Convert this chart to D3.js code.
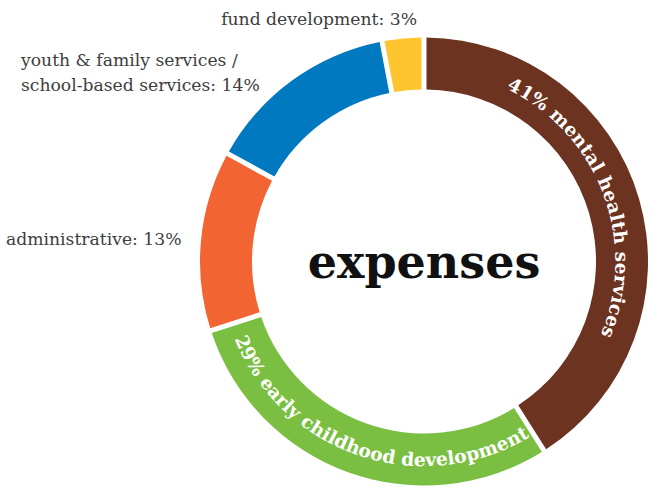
<!DOCTYPE html>
<html>
<head>
<meta charset="utf-8">
<script src="https://cdn.jsdelivr.net/npm/d3@7"></script>
<style>
  html, body { margin: 0; padding: 0; background: #fff; }
  svg { display: block; }
</style>
</head>
<body>
<svg id="chart" width="653" height="487"></svg>
<script>
// ---- data ----
const categories = ["mental health services", "early childhood development", "administrative", "youth & family services / school-based services", "fund development"];
const values = [41, 29, 13, 14, 3];
const colors = ["#6b3320", "#7bbf42", "#f26532", "#0079c1", "#fec52e"];
const arcLabels = ["41% mental health services", "29% early childhood development"];
const outsideLabels = [
  ["fund development: 3%"],
  ["youth & family services /", "school-based services: 14%"],
  ["administrative: 13%"]
];
const title = "expenses";

// ---- layout ----
const W = 653, H = 487;
const cx = 424, cy = 261.5;
const rOuter = 224, rInner = 172;
const rMid = (rOuter + rInner) / 2;
const deg = Math.PI / 180;

const svg = d3.select("#chart");
const g = svg.append("g").attr("transform", `translate(${cx},${cy})`);

const pie = d3.pie().sort(null).value(d => d)(values);
const arc = d3.arc().innerRadius(rInner).outerRadius(rOuter).padAngle(5 / 198).padRadius(198);

g.selectAll("path.slice")
  .data(pie)
  .join("path")
  .attr("class", "slice")
  .attr("d", arc)
  .attr("fill", (d, i) => colors[i]);

// text paths on arcs
const defs = svg.append("defs");
function clockArc(r, a0, a1, anticlockwise) {
  const p = d3.path();
  const s = (a0 - 90) * deg, e = (a1 - 90) * deg;
  p.moveTo(r * Math.cos(s), r * Math.sin(s));
  p.arc(0, 0, r, s, e, anticlockwise);
  return p.toString();
}
const arcFontSize = 18.5;
const measurer = svg.append("text")
  .attr("font-family", "'DejaVu Serif', serif").attr("font-weight", "bold")
  .attr("font-size", arcFontSize).attr("visibility", "hidden");
function measure(s, ls) {
  measurer.attr("letter-spacing", ls).text(s);
  return measurer.node().getComputedTextLength();
}
const arcText = [
  { id: "tp0", center: 69, span: 87, anti: false },
  { id: "tp1", center: 198.4, span: 99, anti: true }
];
const halfPath = 80;
arcText.forEach((a, i) => {
  const label = arcLabels[i];
  const a0 = a.anti ? a.center + halfPath : a.center - halfPath;
  const a1 = a.anti ? a.center - halfPath : a.center + halfPath;
  defs.append("path").attr("id", a.id).attr("d", clockArc(rMid, a0, a1, a.anti));
  const pathLen = 2 * halfPath * deg * rMid;
  const target = a.span * deg * rMid;
  const natural = measure(label, 0);
  const ls = (target - natural) / (label.length - 1);
  const start = pathLen / 2 - target / 2;
  let pos = 0;
  label.split(" ").forEach(word => {
    const idx = label.indexOf(word, pos);
    pos = idx + word.length;
    const off = idx === 0 ? 0 : measure(label.slice(0, idx + word.length), ls) - measure(word, ls);
    g.append("text")
      .attr("fill", "#fff").attr("font-family", "'DejaVu Serif', serif").attr("font-weight", "bold")
      .attr("font-size", arcFontSize).attr("dy", "0.36em").attr("letter-spacing", ls)
      .append("textPath").attr("href", "#" + a.id).attr("startOffset", start + off)
      .text(word);
  });
});
measurer.remove();

// centre title
g.append("text")
  .attr("x", 0).attr("y", 278 - cy)
  .attr("text-anchor", "middle")
  .attr("font-family", "'DejaVu Serif', serif").attr("font-weight", "bold")
  .attr("font-size", 46).attr("fill", "#111")
  .text(title);

// outside labels
const labelPos = [
  { x: 417, y: 25, anchor: "end" },
  { x: 21, y: 66, anchor: "start" },
  { x: 6, y: 245, anchor: "start" }
];
outsideLabels.forEach((lines, i) => {
  const t = svg.append("text")
    .attr("font-family", "'DejaVu Serif', serif").attr("font-size", 17.2)
    .attr("fill", "#3d3d3d").attr("text-anchor", labelPos[i].anchor);
  lines.forEach((ln, j) => {
    t.append("tspan").attr("x", labelPos[i].x).attr("y", labelPos[i].y + j * 24.5).text(ln);
  });
});
</script>
</body>
</html>
